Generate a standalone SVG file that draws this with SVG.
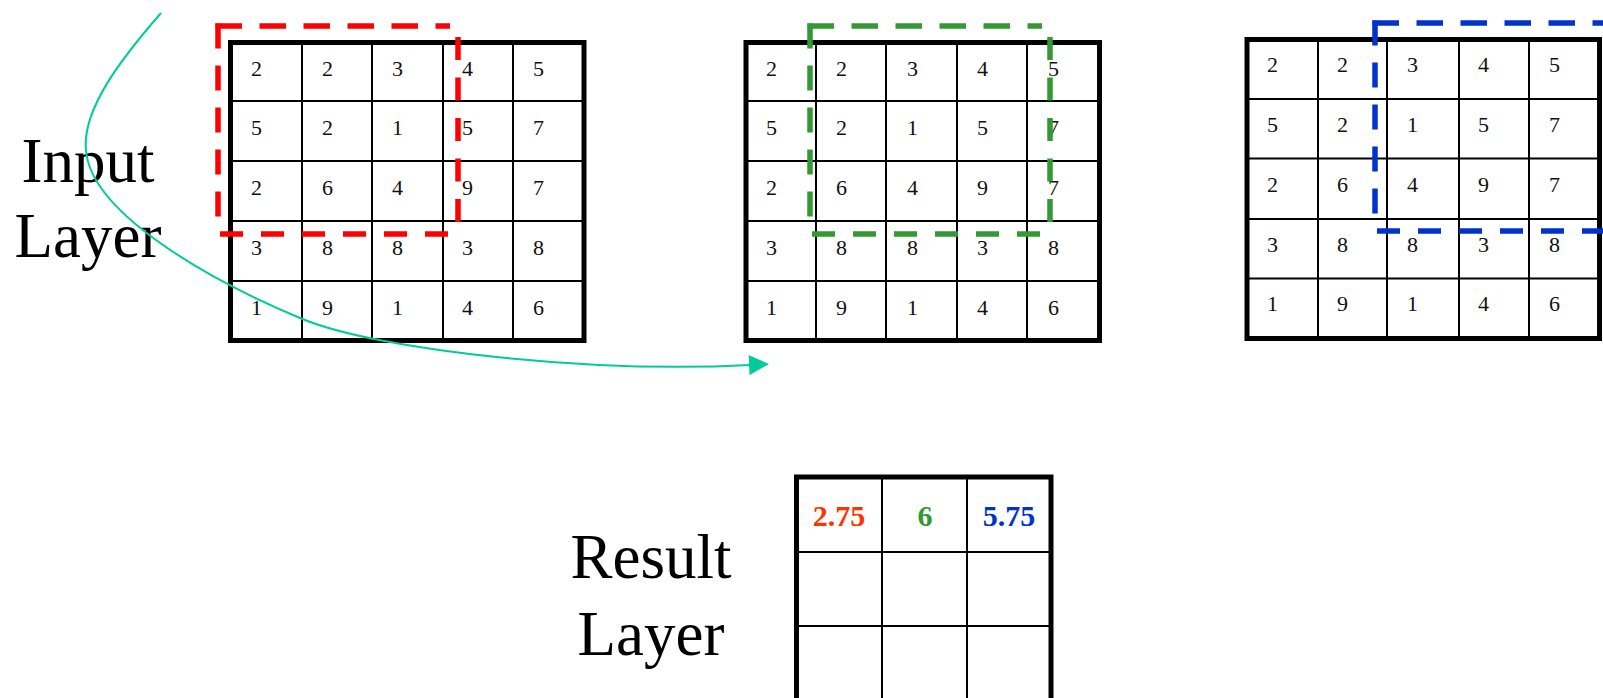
<svg xmlns="http://www.w3.org/2000/svg" width="1603" height="698" viewBox="0 0 1603 698">
  <style>
    .frame { fill: none; stroke: #000; stroke-width: 5; }
    .cell { stroke: #000; stroke-width: 2; }
    .num { font-family: "Liberation Serif", "Times New Roman", serif; font-size: 22px; fill: #111; }
    .label { font-family: "Liberation Serif", "Times New Roman", serif; font-size: 63px; fill: #000; text-anchor: middle; }
    .res { font-family: "Liberation Serif", "Times New Roman", serif; font-size: 30px; font-weight: bold; text-anchor: middle; }
    .win { fill: none; stroke-width: 5.5; }
    .flow { fill: none; stroke: #00CC99; stroke-width: 2; }
  </style>
  <defs>
    <marker id="arrow" markerUnits="userSpaceOnUse" markerWidth="22" markerHeight="22" refX="1" refY="10" orient="auto">
      <path d="M0,0 L20,10 L0,20 Z" fill="#00CC99"/>
    </marker>
  </defs>

  <rect width="1603" height="698" fill="#fff"/>

  <!-- axis labels -->
  <g id="input-label">
    <text class="label" x="88" y="182">Input</text>
    <text class="label" x="88" y="257">Layer</text>
  </g>
  <g id="result-label">
    <text class="label" x="651" y="578">Result</text>
    <text class="label" x="651" y="655">Layer</text>
  </g>

  <!-- input layer, window at column 0 -->
  <g id="grid-1">
    <line class="cell" x1="302" y1="42" x2="302" y2="341"/>
    <line class="cell" x1="372" y1="42" x2="372" y2="341"/>
    <line class="cell" x1="443" y1="42" x2="443" y2="341"/>
    <line class="cell" x1="513" y1="42" x2="513" y2="341"/>
    <line class="cell" x1="230" y1="101" x2="584" y2="101"/>
    <line class="cell" x1="230" y1="161" x2="584" y2="161"/>
    <line class="cell" x1="230" y1="221" x2="584" y2="221"/>
    <line class="cell" x1="230" y1="281" x2="584" y2="281"/>
    <rect class="frame" x="230.5" y="42.5" width="353.5" height="298"/>
    <g class="num">
      <text x="251" y="75.5">2</text><text x="322" y="75.5">2</text><text x="392" y="75.5">3</text><text x="462" y="75.5">4</text><text x="533" y="75.5">5</text>
      <text x="251" y="135">5</text><text x="322" y="135">2</text><text x="392" y="135">1</text><text x="462" y="135">5</text><text x="533" y="135">7</text>
      <text x="251" y="195">2</text><text x="322" y="195">6</text><text x="392" y="195">4</text><text x="462" y="195">9</text><text x="533" y="195">7</text>
      <text x="251" y="255">3</text><text x="322" y="255">8</text><text x="392" y="255">8</text><text x="462" y="255">3</text><text x="533" y="255">8</text>
      <text x="251" y="315">1</text><text x="322" y="315">9</text><text x="392" y="315">1</text><text x="462" y="315">4</text><text x="533" y="315">6</text>
    </g>
  </g>

  <!-- input layer, window at column 1 -->
  <g id="grid-2">
    <line class="cell" x1="816" y1="42" x2="816" y2="341"/>
    <line class="cell" x1="886" y1="42" x2="886" y2="341"/>
    <line class="cell" x1="957" y1="42" x2="957" y2="341"/>
    <line class="cell" x1="1027" y1="42" x2="1027" y2="341"/>
    <line class="cell" x1="746" y1="101" x2="1099" y2="101"/>
    <line class="cell" x1="746" y1="161" x2="1099" y2="161"/>
    <line class="cell" x1="746" y1="221" x2="1099" y2="221"/>
    <line class="cell" x1="746" y1="281" x2="1099" y2="281"/>
    <rect class="frame" x="746" y="42.5" width="353.5" height="298"/>
    <g class="num">
      <text x="766" y="75.5">2</text><text x="836" y="75.5">2</text><text x="907" y="75.5">3</text><text x="977" y="75.5">4</text><text x="1048" y="75.5">5</text>
      <text x="766" y="135">5</text><text x="836" y="135">2</text><text x="907" y="135">1</text><text x="977" y="135">5</text><text x="1048" y="135">7</text>
      <text x="766" y="195">2</text><text x="836" y="195">6</text><text x="907" y="195">4</text><text x="977" y="195">9</text><text x="1048" y="195">7</text>
      <text x="766" y="255">3</text><text x="836" y="255">8</text><text x="907" y="255">8</text><text x="977" y="255">3</text><text x="1048" y="255">8</text>
      <text x="766" y="315">1</text><text x="836" y="315">9</text><text x="907" y="315">1</text><text x="977" y="315">4</text><text x="1048" y="315">6</text>
    </g>
  </g>

  <!-- input layer, window at column 2 -->
  <g id="grid-3">
    <line class="cell" x1="1318" y1="39" x2="1318" y2="338"/>
    <line class="cell" x1="1387" y1="39" x2="1387" y2="338"/>
    <line class="cell" x1="1459" y1="39" x2="1459" y2="338"/>
    <line class="cell" x1="1529" y1="39" x2="1529" y2="338"/>
    <line class="cell" x1="1247" y1="99" x2="1599" y2="99"/>
    <line class="cell" x1="1247" y1="158.5" x2="1599" y2="158.5"/>
    <line class="cell" x1="1247" y1="219" x2="1599" y2="219"/>
    <line class="cell" x1="1247" y1="278.5" x2="1599" y2="278.5"/>
    <rect class="frame" x="1247" y="39.5" width="352.5" height="299"/>
    <g class="num">
      <text x="1267" y="72">2</text><text x="1337" y="72">2</text><text x="1407" y="72">3</text><text x="1478" y="72">4</text><text x="1549" y="72">5</text>
      <text x="1267" y="132">5</text><text x="1337" y="132">2</text><text x="1407" y="132">1</text><text x="1478" y="132">5</text><text x="1549" y="132">7</text>
      <text x="1267" y="192">2</text><text x="1337" y="192">6</text><text x="1407" y="192">4</text><text x="1478" y="192">9</text><text x="1549" y="192">7</text>
      <text x="1267" y="252">3</text><text x="1337" y="252">8</text><text x="1407" y="252">8</text><text x="1478" y="252">3</text><text x="1549" y="252">8</text>
      <text x="1267" y="311">1</text><text x="1337" y="311">9</text><text x="1407" y="311">1</text><text x="1478" y="311">4</text><text x="1549" y="311">6</text>
    </g>
  </g>

  <!-- pooled output -->
  <g id="result-grid">
    <line class="cell" x1="882" y1="477" x2="882" y2="710"/>
    <line class="cell" x1="967" y1="477" x2="967" y2="710"/>
    <line class="cell" x1="797" y1="552" x2="1051" y2="552"/>
    <line class="cell" x1="797" y1="626" x2="1051" y2="626"/>
    <rect class="frame" x="796.5" y="477" width="254.5" height="240"/>
    <text class="res" x="839" y="526" fill="#FF3300">2.75</text>
    <text class="res" x="925" y="526" fill="#339933">6</text>
    <text class="res" x="1009" y="526" fill="#0033CC">5.75</text>
  </g>

  <!-- 4x4 pooling windows -->
  <g id="window-red" class="win" stroke="#FF0000">
    <line x1="215.5" y1="26" x2="450" y2="26" stroke-dasharray="26.5 17.5"/>
    <line x1="218" y1="23.5" x2="218" y2="217" stroke-dasharray="25 17"/>
    <line x1="458" y1="222" x2="458" y2="35" stroke-dasharray="23 17.5"/>
    <line x1="220" y1="234" x2="450" y2="234" stroke-dasharray="23 18"/>
  </g>
  <g id="window-green" class="win" stroke="#339933">
    <line x1="807.5" y1="26" x2="1042" y2="26" stroke-dasharray="26.5 17.5"/>
    <line x1="810" y1="23.5" x2="810" y2="217" stroke-dasharray="25 17"/>
    <line x1="1050" y1="222" x2="1050" y2="35" stroke-dasharray="23 17.5"/>
    <line x1="812" y1="234" x2="1042" y2="234" stroke-dasharray="23 18"/>
  </g>
  <g id="window-blue" class="win" stroke="#0033CC">
    <line x1="1372.5" y1="23" x2="1607" y2="23" stroke-dasharray="26.5 17.5"/>
    <line x1="1375" y1="20.5" x2="1375" y2="214" stroke-dasharray="25 17"/>
    <line x1="1377" y1="231" x2="1607" y2="231" stroke-dasharray="23 18"/>
  </g>

  <g id="connectors">
    <path class="flow" marker-end="url(#arrow)" d="M161,13 C120,60 82,110 86,150 C90,210 200,276 300,318 C380,352 600,373 750,365"/>
  </g>
</svg>
